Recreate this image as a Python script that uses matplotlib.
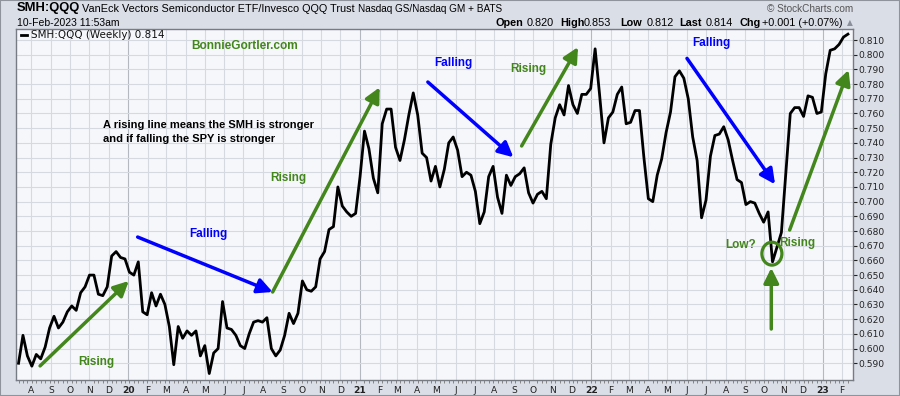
import matplotlib
matplotlib.use('Agg')
import matplotlib.pyplot as plt
import matplotlib.dates as mdates
from matplotlib.patches import Ellipse, Rectangle
import numpy as np
import pandas as pd

# weekly SMH:QQQ ratio (first bar 12-Jul-2019)
start_date = '2019-07-12'
ratio = [
    0.590, 0.609, 0.595, 0.588, 0.596, 0.593, 0.601, 0.614, 0.622, 0.614,
    0.618, 0.625, 0.629, 0.626, 0.638, 0.642, 0.650, 0.650, 0.637, 0.636,
    0.642, 0.663, 0.666, 0.662, 0.661, 0.652, 0.650, 0.659, 0.625, 0.623,
    0.638, 0.629, 0.637, 0.630, 0.615, 0.589, 0.615, 0.607, 0.612, 0.609,
    0.612, 0.595, 0.602, 0.583, 0.597, 0.600, 0.632, 0.614, 0.613, 0.609,
    0.602, 0.600, 0.610, 0.618, 0.619, 0.618, 0.621, 0.600, 0.595, 0.599,
    0.609, 0.624, 0.617, 0.624, 0.646, 0.640, 0.639, 0.642, 0.661, 0.666,
    0.681, 0.683, 0.710, 0.697, 0.693, 0.690, 0.692, 0.717, 0.748, 0.736,
    0.716, 0.706, 0.753, 0.763, 0.763, 0.737, 0.728, 0.742, 0.759, 0.774,
    0.759, 0.733, 0.730, 0.714, 0.724, 0.710, 0.722, 0.740, 0.744, 0.735,
    0.717, 0.720, 0.718, 0.707, 0.685, 0.693, 0.717, 0.724, 0.703, 0.692,
    0.718, 0.711, 0.717, 0.719, 0.723, 0.706, 0.699, 0.705, 0.707, 0.702,
    0.739, 0.757, 0.766, 0.759, 0.779, 0.766, 0.760, 0.773, 0.773, 0.777,
    0.804, 0.773, 0.740, 0.757, 0.761, 0.773, 0.778, 0.753, 0.754, 0.762,
    0.762, 0.730, 0.702, 0.700, 0.718, 0.729, 0.747, 0.761, 0.785, 0.789,
    0.784, 0.770, 0.744, 0.728, 0.689, 0.701, 0.731, 0.745, 0.746, 0.751,
    0.742, 0.728, 0.715, 0.713, 0.698, 0.700, 0.699, 0.692, 0.686, 0.693,
    0.659, 0.669, 0.679, 0.720, 0.760, 0.764, 0.764, 0.758, 0.772, 0.771,
    0.760, 0.761, 0.787, 0.803, 0.804, 0.807, 0.812, 0.814,
]
dates = pd.date_range(start_date, periods=len(ratio), freq='7D')

GREEN = '#43861c'
BLUE = '#0000ff'

# annotation arrows: tail date, tail value, tip date, tip value, colour
arrows = [
    ('2019-08-15', 0.5882, '2020-01-02', 0.6460, GREEN),
    ('2020-01-16', 0.6759, '2020-08-16', 0.6385, BLUE),
    ('2020-08-16', 0.6385, '2021-02-01', 0.7778, GREEN),
    ('2021-04-18', 0.7814, '2021-08-31', 0.7302, BLUE),
    ('2021-09-13', 0.7379, '2021-12-11', 0.8052, GREEN),
    ('2022-06-01', 0.7975, '2022-10-18', 0.7118, BLUE),
    ('2022-11-10', 0.6807, '2023-02-11', 0.7896, GREEN),
    ('2022-10-12', 0.6133, '2022-10-12', 0.6549, GREEN),
]
labels = [
    ('Rising', '2019-11-12', 0.5909, GREEN),
    ('Falling', '2020-05-06', 0.6780, BLUE),
    ('Rising', '2020-09-09', 0.7161, GREEN),
    ('Falling', '2021-05-28', 0.7943, BLUE),
    ('Rising', '2021-09-23', 0.7905, GREEN),
    ('Falling', '2022-07-10', 0.8078, BLUE),
    ('Low?', '2022-08-24', 0.6705, GREEN),
    ('Rising', '2022-11-22', 0.6717, GREEN),
]
low_circle = ('2022-10-13', 0.6646)

header_stats = [('Open', '0.820'), ('High', '0.853'), ('Low', '0.812'),
                ('Last', '0.814'), ('Chg', '+0.001 (+0.07%)')]

W, H = 900, 396
fig = plt.figure(figsize=(W / 100, H / 100), dpi=100)
fig.patch.set_facecolor('#dadee7')
fig.patches.append(Rectangle((0, 0), 1, 1, transform=fig.transFigure,
                             fill=False, edgecolor='#8e939c', lw=1.5))

ax = fig.add_axes([16 / W, 1 - 380 / H, 837 / W, 351 / H])
ax.set_facecolor('#f6f7fb')

ax.set_xlim(pd.Timestamp('2019-07-08'), pd.Timestamp('2023-02-18'))
ax.set_ylim(0.5786, 0.8175)

# grid
months = pd.date_range('2019-08-01', '2023-02-01', freq='MS')
for m in months:
    ax.axvline(m, color='#b4b8c0' if m.month == 1 else '#d6d9e0', lw=0.8, zorder=0)
yt = np.round(np.arange(0.59, 0.8101, 0.01), 3)
for v in yt:
    ax.axhline(v, color='#d6d9e0', lw=0.8, zorder=0)

ax.plot(dates, ratio, color='black', lw=2.0, zorder=3, solid_joinstyle='round')

# axes
ax.yaxis.tick_right()
ax.set_yticks(yt)
ax.set_yticklabels(['%.3f' % v for v in yt])
ax.tick_params(axis='y', length=3, width=0.8, pad=1, labelsize=6.6,
               colors='#222222')
ax.set_xticks(months)
ax.set_xticklabels([str(m.year % 100) if m.month == 1 else m.strftime('%b')[0]
                    for m in months])
for t, m in zip(ax.get_xticklabels(), months):
    if m.month == 1:
        t.set_fontweight('bold')
ax.set_xticks(dates, minor=True)
ax.tick_params(axis='x', which='major', length=0, pad=4, labelsize=6.6,
               colors='#222222')
ax.tick_params(axis='x', which='minor', length=2, width=0.6, color='#777777')
for s in ax.spines.values():
    s.set_color('#777b84')
    s.set_linewidth(1)

# arrows and notes
for t0, v0, t1, v1, c in arrows:
    ax.annotate('', xy=(pd.Timestamp(t1), v1), xytext=(pd.Timestamp(t0), v0),
                arrowprops=dict(arrowstyle='-|>,head_length=9,head_width=4.5',
                                mutation_scale=1, lw=2.5, color=c,
                                shrinkA=0, shrinkB=0), zorder=4)
for txt, d, v, c in labels:
    ax.text(pd.Timestamp(d), v, txt, color=c, fontsize=8.5, fontweight='bold',
            family='Liberation Sans', ha='center', va='center', zorder=5)
ax.add_patch(Ellipse((mdates.date2num(pd.Timestamp(low_circle[0])), low_circle[1]),
                     31.6, 0.0156, fill=False, edgecolor=GREEN, lw=2.3, zorder=5))

ax.text(pd.Timestamp('2020-07-03'), 0.8059, 'BonnieGortler.com', color=GREEN,
        fontsize=8.6, fontweight='bold', family='Liberation Sans',
        ha='center', va='center')
ax.text(pd.Timestamp('2019-11-22'), 0.7522, 'A rising line means the SMH is stronger',
        fontsize=8, fontweight='bold', family='Liberation Sans', va='center')
ax.text(pd.Timestamp('2019-11-22'), 0.7426, 'and if falling the SPY is stronger',
        fontsize=8, fontweight='bold', family='Liberation Sans', va='center')

# legend line
fig.add_artist(plt.Line2D([20.5 / W, 27 / W], [1 - 35 / H, 1 - 35 / H],
                          color='black', lw=2))
fig.text(30.5 / W, 1 - 35 / H, 'SMH:QQQ (Weekly) 0.814', fontsize=7.5,
         va='center', color='#111111')

# header
fig.text(16.5 / W, 1 - 8.5 / H, 'SMH:QQQ', fontsize=9.4, fontweight='bold',
         family='Liberation Sans', va='center')
fig.text(82 / W, 1 - 8.5 / H, 'VanEck Vectors Semiconductor ETF/Invesco QQQ Trust',
         fontsize=7.8, family='Liberation Sans', va='center')
fig.text(358 / W, 1 - 9 / H, 'Nasdaq GS/Nasdaq GM + BATS', fontsize=7.2,
         family='Liberation Sans', va='center')
fig.text(16.7 / W, 1 - 22.7 / H, '10-Feb-2023 11:53am', fontsize=7.5,
         family='Liberation Sans', va='center')
fig.text(853 / W, 1 - 9 / H, '\u00a9 StockCharts.com', fontsize=7.2,
         family='Liberation Sans', va='center', ha='right', color='#555555')

stat_x = [(495, 527), (560, 584), (620, 647), (679, 706), (740, 762)]
for (name, val), (xn, xv) in zip(header_stats, stat_x):
    fig.text(xn / W, 1 - 23 / H, name, fontsize=7.8, fontweight='bold',
             family='Liberation Sans', va='center')
    fig.text(xv / W, 1 - 23 / H, val, fontsize=7.8, family='Liberation Sans',
             va='center')
fig.text(849.5 / W, 1 - 23 / H, '\u25b2', fontsize=5.5, color='#8a8f99',
         ha='center', va='center')

fig.savefig('out.png', dpi=100, facecolor=fig.get_facecolor())
